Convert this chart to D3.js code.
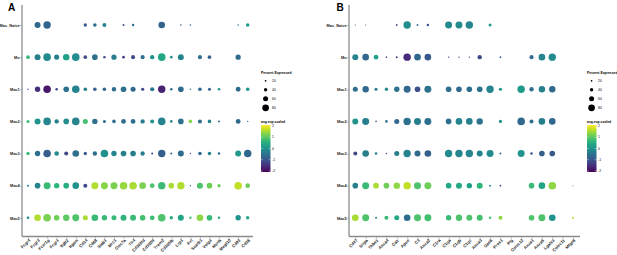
<!DOCTYPE html>
<html>
<head>
<meta charset="utf-8">
<script src="https://cdn.jsdelivr.net/npm/d3@7"></script>
<style>
    body { margin: 0; background: #fff; }
    text { font-family: Arial, "Liberation Sans", sans-serif; }
</style>
</head>
<body>
<div id="chart"></div>
<script>
"use strict";

let svgWidth = 617;
let svgHeight = 255;

/* ---------------- DATA ---------------- */
let clusters = ["Mac_Naive", "Mo", "Mac1", "Mac2", "Mac3", "Mac4", "Mac5"];

let genesA = ["Fcgr4", "Fcgr3", "Fcer1g", "Fcgr1", "Itgb2", "Itgam", "Cd14", "Cd68",
    "Stab1", "Mrc1", "Clec7a", "Tlr4", "Cd300ld", "Cd300lf", "Trem2", "Cd300lb",
    "Lrp1", "Axl", "Scarb1", "Vsig4", "Mertk", "Megf10", "Cd93", "Cd36"];

let genesB = ["Cd47", "Sirpa", "Thbs1", "Anxa4", "Calr", "Apoe", "C3", "Anxa2",
    "C1ra", "C1qa", "C1qb", "C1qc", "Anxa3", "Gas6", "Pros1", "Plg", "Colec12",
    "Anxa1", "Anxa5", "Lgals3", "Colec11", "Mfge8"];

// percent expressed, one row per cluster (null = no dot)
let pctA = [
    [null, 71, 88, null, null, null, 40, 43, 48, null, 24, 29, null, null, 79, null, 19, 19, null, null, null, null, 19, 43],
    [45, 71, 90, 60, 76, 90, 43, 67, 29, 62, 31, 48, 48, 52, 90, 31, 71, null, 48, 43, null, null, 62, null],
    [17, 64, 90, 31, 67, 90, 43, 43, 43, 52, 67, 60, 38, 50, 88, 31, 67, 19, 43, 36, 31, null, 57, 43],
    [36, 71, 90, 52, 67, 90, 60, 64, 36, 43, 57, 57, 52, 48, 90, 31, 67, 43, 48, 43, 24, null, 57, 17],
    [40, 64, 90, 55, 48, 79, 40, 52, 90, 64, 67, 67, 52, 24, 88, 24, 71, 17, 43, 43, 29, null, 71, 90],
    [24, 67, 83, 64, 67, 79, 48, 83, 83, 83, 90, 90, 79, 57, 88, 67, 88, 17, 71, 67, 40, null, 90, 55],
    [31, 79, 90, 67, 76, 83, 60, 79, 64, 60, 71, 71, 67, 57, 90, 40, 71, 29, 79, 67, 29, null, 64, 40]
];

// average expression (scaled), same layout
let expA = [
    [null, -0.7, -0.75, null, null, null, -0.85, -0.65, -0.2, null, -1.1, -0.65, null, null, -0.8, null, -0.85, -0.85, null, null, null, null, -0.65, 0.17],
    [0.75, -0.3, -0.1, -0.3, 0.3, -0.05, -1.15, -0.6, -1.25, -0.35, -1.45, -1.15, -0.6, 0.05, 0.42, -0.1, -0.2, null, -0.6, -0.85, null, null, -0.65, null],
    [-1.15, -1.55, -1.85, -1.25, -0.55, -0.2, -0.3, -0.85, -0.65, -0.65, -0.55, -0.7, -1.25, -0.4, -1.7, -0.6, -0.65, -0.3, -0.7, -0.85, 0, null, -0.65, 0.17],
    [0.75, 0.05, -0.2, -0.3, -0.1, -0.2, 0.84, -0.6, -0.65, -0.65, -0.6, -0.6, -0.3, 0.05, -0.2, -0.2, -0.55, 1.34, -0.65, -0.3, -0.6, null, -0.65, -0.4],
    [0.75, -0.6, -0.85, -0.1, -1.15, -0.55, -0.95, -0.65, 0, -0.2, -0.3, -0.3, -0.3, -1.15, -0.85, -0.6, -0.65, -1.1, -0.65, -0.2, -0.65, null, 0.17, -0.7],
    [-0.3, -0.2, 0.75, 0.63, 0.5, 0.05, -1.15, 1.6, 1.34, 1.26, 1.43, 1.55, 1.26, 0.92, 0.75, 1.55, 1.6, -0.6, 0.92, 1.17, 1.17, null, 1.7, 1.17],
    [-0.1, 1.6, 1.26, 1.17, 1.05, 0.92, 1.55, 0.75, 0.75, 0.75, 0.63, 0.75, 0.84, 0.75, 0.92, 0.42, 0.35, 0.92, 1.38, 0.75, 0.42, null, 0.05, 0.42]
];

let pctB = [
    [14, 14, null, null, 21, 88, 21, 29, null, 83, 83, 88, null, 36, null, null, null, null, null, null, null, null],
    [71, 79, 55, 19, 24, 88, 79, 79, null, 17, 17, 17, 52, null, 21, null, null, 48, 79, 88, null, null],
    [60, 76, 36, 40, 64, 83, 67, 83, null, 67, 67, 67, 67, 88, 38, null, 88, 52, 76, 76, null, null],
    [71, 83, 19, 31, 60, 88, 83, 83, null, 67, 79, 79, 76, null, 38, null, 90, 48, 79, 79, null, null],
    [48, 79, 31, 19, 60, 88, 71, 79, null, 88, 88, 88, 71, 83, 24, null, 83, 29, 67, 67, null, null],
    [67, 83, 67, 67, 76, 88, 83, 83, null, 67, 71, 64, 71, 24, 21, null, null, 67, 79, 90, null, 12],
    [79, 83, 24, 48, 60, 79, 83, 83, null, 64, 76, 71, 71, 31, 48, null, null, 67, 83, 79, null, 24]
];

let expB = [
    [-1.15, -1.15, null, null, -1.15, -0.05, -0.65, -1.15, null, -0.1, -0.1, -0.2, null, 0.17, null, null, null, null, null, null, null, null],
    [-0.2, -0.7, 0.3, -1.25, -1.45, -1.6, -0.7, -0.95, null, -1.15, -1.15, -1.15, -1.15, null, -1.0, null, null, -0.65, -0.2, -0.1, null, null],
    [-0.6, -0.7, -0.4, -0.1, -0.55, -0.7, -1.1, -0.55, null, -0.6, -0.7, -0.6, -0.55, -0.2, 0.05, null, 0.17, -0.6, -0.3, -0.7, null, null],
    [0.05, -0.3, -1.0, -0.6, -0.7, -0.55, -0.3, -0.6, null, -0.6, -0.2, -0.3, -0.55, null, 0.05, null, -0.7, -0.6, -0.3, -0.7, null, null],
    [-1.15, -0.3, -0.3, -1.15, -0.3, -0.2, -0.7, -0.85, null, -0.1, -0.2, -0.2, -0.2, -0.1, -0.65, null, 0.05, -1.15, -0.85, -0.95, null, null],
    [-0.3, 0.75, 1.55, 1.17, 1.38, 1.7, 0.92, 1.17, null, 0.42, 0.42, 0.3, 0.63, -0.2, -1.15, null, null, 0.75, 0.35, 1.38, null, -0.2],
    [1.55, 0.92, -0.2, 0.75, 0.42, -0.6, 0.92, 0.84, null, 0.75, 0.92, 0.92, 0.84, 0.92, 1.38, null, null, 0.92, 0.92, 0.05, null, 1.6]
];

let sizeTicks = [20, 40, 60, 80];
let colorTicks = [2, 1, 0, -1, -2];

/* ---------------- SVG ---------------- */
let svg = d3.select("#chart")
    .append("svg")
    .attr("width", svgWidth)
    .attr("height", svgHeight);

let rowTop = 25;
let rowBottom = 217.8;
let axisY = 236.5;
let axisColor = "#8c8c8c";

let yScale = d3.scalePoint()
    .domain(clusters)
    .range([rowTop, rowBottom]);

let rScale = d3.scaleLinear()
    .domain([0, 100])
    .range([0, 4.2]);

let colorScale = d3.scaleSequential(d3.interpolateViridis)
    .domain([-2.1, 2.1]);

// gradient for the colour bars
let defs = svg.append("defs");
let grad = defs.append("linearGradient")
    .attr("id", "viridisBar")
    .attr("x1", 0).attr("y1", 1)
    .attr("x2", 0).attr("y2", 0);
d3.range(0, 1.001, 0.1).forEach(function (t) {
    grad.append("stop")
        .attr("offset", t)
        .attr("stop-color", d3.interpolateViridis(t));
});

/* ---------------- ONE PANEL ---------------- */
function drawPanel(p) {

    let g = svg.append("g");

    let xScale = d3.scalePoint()
        .domain(p.genes)
        .range([p.x0, p.x1]);

    /* panel letter */
    g.append("text")
        .attr("x", p.letterX)
        .attr("y", 11)
        .attr("font-size", "10px")
        .attr("font-weight", "bold")
        .text(p.letter);

    /* ---- X AXIS ---- */
    let xg = g.append("g")
        .attr("transform", "translate(0," + axisY + ")")
        .call(d3.axisBottom(xScale).tickSize(2).tickSizeOuter(0));

    xg.select(".domain").remove();
    xg.selectAll(".tick line").attr("stroke", axisColor).attr("stroke-width", 0.6);
    xg.selectAll("text")
        .attr("x", -1.5)
        .attr("y", 3)
        .attr("dy", "0.35em")
        .attr("transform", "rotate(-45)")
        .attr("text-anchor", "end")
        .attr("font-size", "4.2px")
        .attr("font-weight", "bold")
        .attr("fill", "#222");

    g.append("line")
        .attr("x1", p.axisX).attr("x2", p.axisEnd)
        .attr("y1", axisY).attr("y2", axisY)
        .attr("stroke", axisColor)
        .attr("stroke-width", 1.3);

    /* ---- Y AXIS ---- */
    let yg = g.append("g")
        .attr("transform", "translate(" + p.axisX + ",0)")
        .call(d3.axisLeft(yScale).tickSize(2).tickSizeOuter(0));

    yg.select(".domain").remove();
    yg.selectAll(".tick line").attr("stroke", axisColor).attr("stroke-width", 0.6);
    yg.selectAll("text")
        .attr("x", -2.3)
        .attr("font-size", "3.9px")
        .attr("font-weight", "bold")
        .attr("fill", "#222");

    g.append("line")
        .attr("x1", p.axisX).attr("x2", p.axisX)
        .attr("y1", 5).attr("y2", axisY)
        .attr("stroke", axisColor)
        .attr("stroke-width", 1.3);

    /* ---- DOTS ---- */
    let cells = [];
    clusters.forEach(function (c, i) {
        p.genes.forEach(function (gene, j) {
            if (p.pct[i][j] !== null) {
                cells.push({ cluster: c, gene: gene, pct: p.pct[i][j], exp: p.exp[i][j] });
            }
        });
    });

    g.append("g")
        .selectAll("circle")
        .data(cells)
        .join("circle")
        .attr("cx", d => xScale(d.gene))
        .attr("cy", d => yScale(d.cluster))
        .attr("r", d => rScale(d.pct))
        .attr("fill", d => colorScale(d.exp));

    /* ---- LEGEND: PERCENT ---- */
    let lx = p.legendX;

    g.append("text")
        .attr("x", lx)
        .attr("y", 74)
        .attr("font-size", "3.4px")
        .attr("font-weight", "bold")
        .text("Percent Expressed");

    sizeTicks.forEach(function (s, i) {
        let cy = 80.8 + i * 9;
        g.append("circle")
            .attr("cx", lx + 4.6)
            .attr("cy", cy)
            .attr("r", rScale(s))
            .attr("fill", "black");
        g.append("text")
            .attr("x", lx + 11)
            .attr("y", cy)
            .attr("dy", "0.35em")
            .attr("font-size", "3.4px")
            .text(s);
    });

    /* ---- LEGEND: COLOUR ---- */
    g.append("text")
        .attr("x", lx)
        .attr("y", 122.5)
        .attr("font-size", "3.4px")
        .attr("font-weight", "bold")
        .text("avg.exp.scaled");

    let barScale = d3.scaleLinear()
        .domain([2.1, -2.1])
        .range([125, 172]);

    g.append("rect")
        .attr("x", lx)
        .attr("y", 125)
        .attr("width", 9.5)
        .attr("height", 47)
        .attr("fill", "url(#viridisBar)");

    colorTicks.forEach(function (v) {
        let ty = barScale(v);
        g.append("line")
            .attr("x1", lx).attr("x2", lx + 1.8)
            .attr("y1", ty).attr("y2", ty)
            .attr("stroke", "white").attr("stroke-width", 0.4);
        g.append("line")
            .attr("x1", lx + 7.7).attr("x2", lx + 9.5)
            .attr("y1", ty).attr("y2", ty)
            .attr("stroke", "white").attr("stroke-width", 0.4);
        g.append("text")
            .attr("x", lx + 11)
            .attr("y", ty)
            .attr("dy", "0.35em")
            .attr("font-size", "3.4px")
            .text(v);
    });
}

drawPanel({
    letter: "A",
    letterX: 8,
    genes: genesA,
    pct: pctA,
    exp: expA,
    x0: 28,
    x1: 247.7,
    axisX: 22,
    axisEnd: 253,
    legendX: 261
});

drawPanel({
    letter: "B",
    letterX: 336.5,
    genes: genesB,
    pct: pctB,
    exp: expB,
    x0: 355.3,
    x1: 573,
    axisX: 349,
    axisEnd: 580,
    legendX: 587
});
</script>
</body>
</html>
